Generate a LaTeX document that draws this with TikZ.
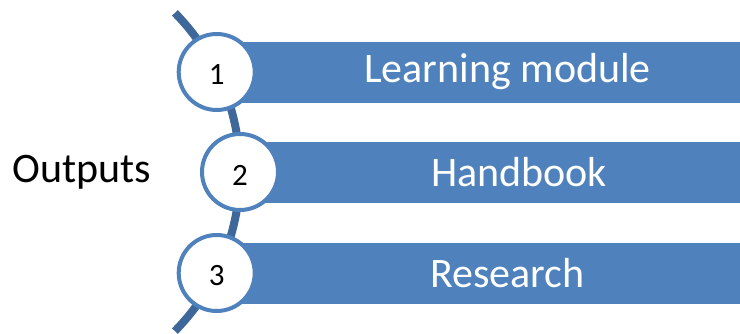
\documentclass[tikz,border=0pt]{standalone}
\usepackage{fontspec}
\setmainfont{Carlito}
\definecolor{barblue}{HTML}{4F81BD}
\definecolor{arcblue}{HTML}{3D6899}
\begin{document}
\begin{tikzpicture}[x=1pt,y=1pt,
  bar/.style={fill=barblue,draw=none,minimum height=61pt,anchor=west,inner sep=0pt},
  num/.style={circle,draw=barblue,line width=4pt,fill=white,minimum size=76pt,inner sep=0pt},
  numtext/.style={font=\fontsize{31}{34}\selectfont,inner sep=0pt},
  bartext/.style={text=white,font=\fontsize{42}{48}\selectfont,inner sep=0pt}]
\useasboundingbox (0,0) rectangle (740,333);
% backbone arc
\draw[arcblue,line width=8pt] (13,161) ++(44.5:227) arc[start angle=44.5,end angle=-44.5,radius=227];
% bars
\node[bar,minimum width=523.3pt] (b1) at (216.7,261) {};
\node[bar,minimum width=500pt] (b2) at (240,161) {};
\node[bar,minimum width=523.3pt] (b3) at (216.7,60) {};
\node[bartext] at ([xshift=29pt]b1.center) {Learning module};
\node[bartext] at ([xshift=29pt]b2.center) {Handbook};
\node[bartext] at ([xshift=29pt]b3.center) {Research};
% circles
\node[num] (c1) at (216.7,261) {};
\node[num] (c2) at (240,161) {};
\node[num] (c3) at (216.7,60) {};
\node[numtext] at ([yshift=-3pt]c1.center) {1};
\node[numtext] at ([yshift=-3pt]c2.center) {2};
\node[numtext] at ([yshift=-3pt]c3.center) {3};
\node[font=\fontsize{42}{48}\selectfont,inner sep=0pt] (out) at (82,161) {Outputs};
\end{tikzpicture}
\end{document}
